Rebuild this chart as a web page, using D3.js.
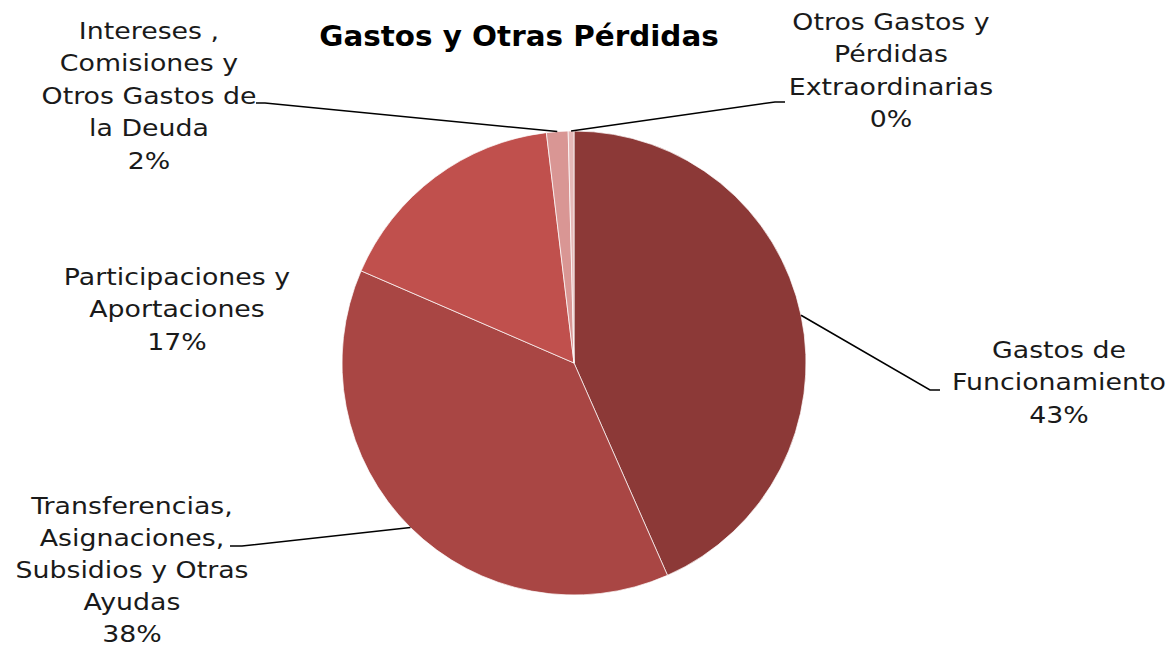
<!DOCTYPE html>
<html><head><meta charset="utf-8">
<script src="https://cdn.jsdelivr.net/npm/d3@7/dist/d3.min.js"></script>
<style>body{margin:0;background:#fff}svg{display:block}</style>
</head><body><svg id="c" width="1174" height="649"></svg>
<script>
const categories = ["Gastos de Funcionamiento","Transferencias, Asignaciones, Subsidios y Otras Ayudas","Participaciones y Aportaciones","Intereses , Comisiones y Otros Gastos de la Deuda","Otros Gastos y Pérdidas Extraordinarias"];
const values = [43.4, 38.1, 16.6, 1.5, 0.4];
const pctLabels = ["43%","38%","17%","2%","0%"];
const colors = ["#8c3937","#a94644","#c0504d","#d99694","#e6b9b8"];
const title = "Gastos y Otras Pérdidas";

// layout: label line breaks, label centers, leader elbows
const labelLines = [
  ["Gastos de","Funcionamiento"],
  ["Transferencias,","Asignaciones,","Subsidios y Otras","Ayudas"],
  ["Participaciones y","Aportaciones"],
  ["Intereses ,","Comisiones y","Otros Gastos de","la Deuda"],
  ["Otros Gastos y","Pérdidas","Extraordinarias"]
];
const labelPos = [[1059,350],[132,506],[177,277],[149,31],[891,22]];
const labelLH = [32.4, 32.0, 32.4, 32.4, 32.4];
const elbows = [[[930,390],[940,390]],[[242,546],[230,546]],null,[[265,103],[256,103]],[[775,102],[785,102]]];

const svg = d3.select("#c");
const cx = 574, cy = 363, r = 232;
const font = "'DejaVu Sans', sans-serif";
const fs = 23.5, widen = 1.14;

const tt = svg.append("text").attr("x",519).attr("y",46).attr("text-anchor","middle")
  .attr("font-family",font).attr("font-weight","bold").attr("font-size",28)
  .attr("fill","#000").text(title);
tt.attr("textLength", tt.node().getComputedTextLength()*1.05).attr("lengthAdjust","spacingAndGlyphs");

const pie = d3.pie().sort(null).value(d=>d);
const arcs = pie(values);
const arc = d3.arc().innerRadius(0).outerRadius(r);
const g = svg.append("g").attr("transform",`translate(${cx},${cy})`);
g.selectAll("path").data(arcs).join("path")
  .attr("d",arc).attr("fill",(d,i)=>colors[i])
  .attr("stroke","#fff").attr("stroke-width",0.7);

arcs.forEach((a,i)=>{
  if(!elbows[i]) return;
  const m=(a.startAngle+a.endAngle)/2;
  const sx=cx+r*Math.sin(m), sy=cy-r*Math.cos(m);
  const pts=[[sx,sy],...elbows[i]];
  svg.append("path").attr("d",d3.line()(pts)).attr("fill","none")
    .attr("stroke","#000").attr("stroke-width",1.5);
});

labelLines.forEach((lines,i)=>{
  const all=[...lines,pctLabels[i]];
  all.forEach((s,k)=>{
    const t=svg.append("text").attr("text-anchor","middle")
      .attr("font-family",font).attr("font-size",fs).attr("fill","#1a1a1a")
      .attr("x",labelPos[i][0]).attr("y",labelPos[i][1]+k*labelLH[i]+8).text(s);
    t.attr("textLength", t.node().getComputedTextLength()*widen).attr("lengthAdjust","spacingAndGlyphs");
  });
});
</script></body></html>
